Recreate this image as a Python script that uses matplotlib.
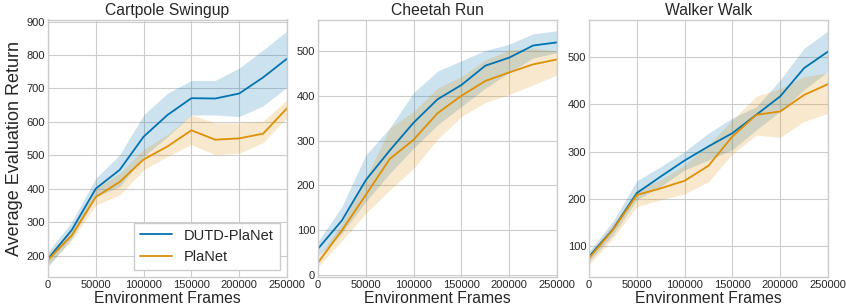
import matplotlib
matplotlib.use("Agg")
import matplotlib.pyplot as plt
import numpy as np

plt.style.use("seaborn-v0_8-whitegrid")
plt.rcParams["font.family"] = ["Liberation Sans", "DejaVu Sans"]

frames = [0, 25000, 50000, 75000, 100000, 125000, 150000, 175000, 200000, 225000, 250000]

# Cartpole Swingup
cart_dutd = [191, 278, 401, 457, 556, 621, 671, 670, 685, 733, 789]
cart_dutd_hi = [213, 302, 432, 502, 621, 686, 724, 724, 761, 815, 872]
cart_dutd_lo = [168, 253, 377, 407, 497, 556, 621, 621, 616, 648, 704]
cart_planet = [188, 262, 376, 421, 488, 527, 575, 547, 551, 565, 641]
cart_planet_hi = [208, 277, 402, 447, 518, 563, 621, 597, 597, 602, 666]
cart_planet_lo = [173, 247, 352, 382, 457, 497, 532, 502, 507, 538, 614]

# Cheetah Run
cheetah_dutd = [59, 122, 212, 278, 340, 392, 424, 467, 485, 512, 519]
cheetah_dutd_hi = [75, 153, 268, 328, 407, 455, 478, 501, 515, 538, 545]
cheetah_dutd_lo = [42, 94, 164, 227, 283, 335, 376, 417, 452, 484, 496]
cheetah_planet = [28, 100, 179, 259, 302, 361, 400, 433, 452, 470, 481]
cheetah_planet_hi = [38, 116, 216, 328, 365, 417, 443, 480, 502, 506, 500]
cheetah_planet_lo = [19, 77, 138, 190, 238, 303, 354, 385, 403, 424, 447]

# Walker Walk
walker_dutd = [77, 135, 212, 247, 281, 311, 339, 378, 417, 477, 512]
walker_dutd_hi = [88, 152, 238, 268, 300, 339, 371, 395, 452, 519, 556]
walker_dutd_lo = [67, 123, 198, 226, 261, 282, 304, 346, 385, 431, 470]
walker_planet = [74, 134, 208, 222, 238, 270, 332, 378, 385, 420, 443]
walker_planet_hi = [84, 145, 219, 240, 272, 314, 367, 417, 434, 459, 467]
walker_planet_lo = [60, 116, 183, 198, 210, 236, 295, 335, 330, 364, 381]

blue = "#0173B2"
orange = "#DE8F05"

panels = [
    ("Cartpole Swingup", cart_dutd, cart_dutd_lo, cart_dutd_hi,
     cart_planet, cart_planet_lo, cart_planet_hi, (137, 906), [200, 300, 400, 500, 600, 700, 800, 900]),
    ("Cheetah Run", cheetah_dutd, cheetah_dutd_lo, cheetah_dutd_hi,
     cheetah_planet, cheetah_planet_lo, cheetah_planet_hi, (-4, 570), [0, 100, 200, 300, 400, 500]),
    ("Walker Walk", walker_dutd, walker_dutd_lo, walker_dutd_hi,
     walker_planet, walker_planet_lo, walker_planet_hi, (34, 580), [100, 200, 300, 400, 500]),
]

lefts = [48, 318, 589]
W, H = 846, 304
fig = plt.figure(figsize=(W / 100, H / 100), dpi=100)

for i, (title, d, dlo, dhi, p, plo, phi, ylim, yt) in enumerate(panels):
    ax = fig.add_axes([lefts[i] / W, 27 / H, 239 / W, 257.5 / H])
    ax.fill_between(frames, dlo, dhi, color=blue, alpha=0.2, linewidth=0)
    ax.fill_between(frames, plo, phi, color=orange, alpha=0.2, linewidth=0)
    ax.plot(frames, d, color=blue, linewidth=1.3, label="DUTD-PlaNet")
    ax.plot(frames, p, color=orange, linewidth=1.3, label="PlaNet")
    ax.set_xlim(0, 250000)
    ax.set_ylim(*ylim)
    ax.set_xticks([0, 50000, 100000, 150000, 200000, 250000])
    ax.set_xticklabels(["0", "50000", "100000", "150000", "200000", "250000"])
    ax.set_yticks(yt)
    ax.tick_params(labelsize=8, pad=2, colors="#262626")
    ax.set_title(title, fontsize=11.3, pad=3, color="#262626")
    ax.set_xlabel("Environment Frames", fontsize=11.3, labelpad=1, color="#262626")
    for s in ax.spines.values():
        s.set_color("#cccccc")
    if i == 0:
        ax.set_ylabel("Average Evaluation Return", fontsize=13, labelpad=3, color="#262626")
        ax.legend(loc="lower right", fontsize=10.5, frameon=True, fancybox=False,
                  edgecolor="#cccccc", framealpha=1, handlelength=2.2)

fig.savefig("out.png", dpi=100)
